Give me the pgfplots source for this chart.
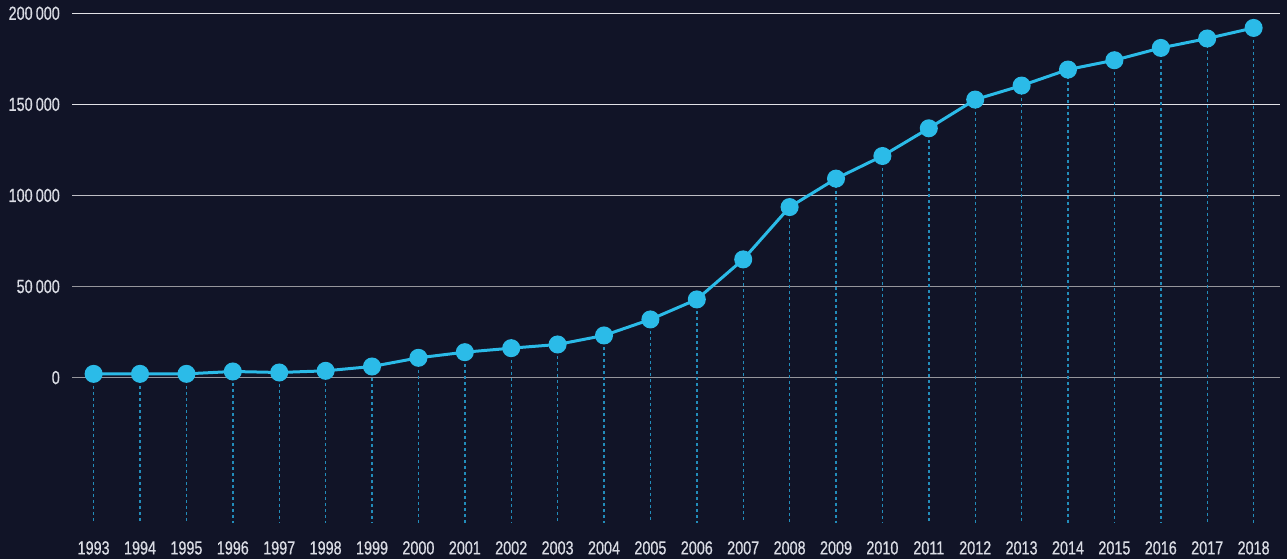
\documentclass[border=0pt]{standalone}
\usepackage{fontspec}
\setmainfont{Liberation Sans}[FakeStretch=0.76,FakeBold=0.6]
\usepackage{pgfplots}
\pgfplotsset{compat=1.18}
\usepackage{pgfplotstable}
\definecolor{bg}{RGB}{17,20,39}
\definecolor{lineblue}{RGB}{43,187,232}
\definecolor{dashblue}{RGB}{34,140,186}
\definecolor{txt}{RGB}{218,220,228}
\definecolor{gridA}{RGB}{150,150,156}
\definecolor{gridB}{RGB}{190,190,196}
\definecolor{gridC}{RGB}{225,225,230}
\pgfplotstableread{
year val
1993 2000
1994 2000
1995 2000
1996 3300
1997 2750
1998 3660
1999 6040
2000 10800
2001 13900
2002 16100
2003 18130
2004 23080
2005 31870
2006 42860
2007 64840
2008 93570
2009 109180
2010 121600
2011 136810
2012 152580
2013 160270
2014 169070
2015 174180
2016 180930
2017 186100
2018 191920
}\datatable
\begin{document}
\begin{tikzpicture}
\fill[bg] (0,0) rectangle (1287bp,559bp);
\useasboundingbox (0,0) rectangle (1287bp,559bp);
\begin{axis}[
  at={(72bp,29bp)}, anchor=south west,
  scale only axis, width=1208bp, height=525bp,
  xmin=1992.534, xmax=2018.569, ymin=-83722, ymax=204500,
  scaled x ticks=false, scaled y ticks=false,
  axis line style={draw=none}, major tick length=0pt,
  xtick={1993,1994,1995,1996,1997,1998,1999,2000,2001,2002,2003,2004,2005,2006,2007,2008,2009,2010,2011,2012,2013,2014,2015,2016,2017,2018},
  xticklabels={1993,1994,1995,1996,1997,1998,1999,2000,2001,2002,2003,2004,2005,2006,2007,2008,2009,2010,2011,2012,2013,2014,2015,2016,2017,2018},
  ytick={0,50000,100000,150000,200000},
  yticklabels={0,50\,000,100\,000,150\,000,200\,000},
  ticklabel style={font=\fontsize{19}{19}\selectfont, text=txt, inner sep=0pt},
  xticklabel style={anchor=north, yshift=-11bp},
  yticklabel style={anchor=base east, xshift=-12bp, yshift=-6.6bp},
]
\addplot[forget plot, gridA, line width=1.4bp] coordinates {(1992.534,0) (2018.569,0)};
\addplot[forget plot, gridA, line width=1.3bp] coordinates {(1992.534,50000) (2018.569,50000)};
\addplot[forget plot, gridB, line width=1.3bp] coordinates {(1992.534,100000) (2018.569,100000)};
\addplot[forget plot, gridC, line width=1.3bp] coordinates {(1992.534,150000) (2018.569,150000)};
\addplot[forget plot, gridC, line width=1.3bp] coordinates {(1992.534,200000) (2018.569,200000)};
\addplot[forget plot, only marks, mark=none,
  error bars/.cd, y dir=minus, y explicit, error mark=none,
  error bar style={draw=dashblue, line width=1.4bp, dash pattern=on 3bp off 3bp}]
  table[x=year, y=val, y error expr=\thisrow{val}+79880] {\datatable};
\addplot[lineblue, line width=3bp, mark=*, mark size=7.5bp,
  mark options={fill=lineblue, draw=none, solid}] table[x=year, y=val] {\datatable};
\end{axis}
\end{tikzpicture}
\end{document}
